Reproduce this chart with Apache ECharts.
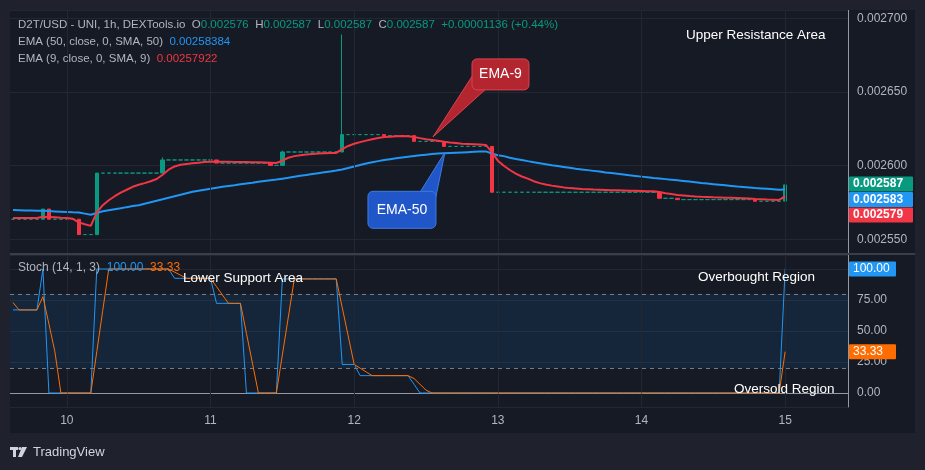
<!DOCTYPE html>
<html><head><meta charset="utf-8">
<script src="https://cdn.jsdelivr.net/npm/echarts@6/dist/echarts.min.js"></script>
<style>html,body{margin:0;padding:0;background:#161a25;}#c{width:925px;height:470px;}</style>
</head><body><div id="c"></div>
<script>
// ---------- DATA ----------
const startDay = 9, startHour = 15, slotCount = 140;
const dayTickLabels = ['10', '11', '12', '13', '14', '15'];

const opens = [
0.0025637,0.0025637,0.0025637,0.0025637,0.0025637,0.0025637,0.0025706,0.0025637,0.0025637,0.0025637,
0.0025637,0.0025637,0.0025533,0.0025533,0.0025533,0.0025950,0.0025950,0.0025950,0.0025950,0.0025950,
0.0025950,0.0025950,0.0025950,0.0025950,0.0025950,0.0025950,0.0026039,0.0026039,0.0026039,0.0026039,
0.0026039,0.0026039,0.0026039,0.0026039,0.0026039,0.0026018,0.0026018,0.0026018,0.0026018,0.0026018,
0.0026018,0.0026018,0.0026018,0.0026018,0.0026002,0.0026002,0.0026093,0.0026093,0.0026093,0.0026093,
0.0026093,0.0026093,0.0026093,0.0026093,0.0026093,0.0026093,0.0026211,0.0026211,0.0026211,0.0026211,
0.0026211,0.0026211,0.0026211,0.0026204,0.0026204,0.0026204,0.0026204,0.0026204,0.0026165,0.0026165,
0.0026165,0.0026165,0.0026165,0.0026131,0.0026131,0.0026131,0.0026131,0.0026131,0.0026131,0.0026131,
0.0026131,0.0025820,0.0025820,0.0025820,0.0025820,0.0025820,0.0025820,0.0025820,0.0025820,0.0025820,
0.0025820,0.0025820,0.0025820,0.0025820,0.0025820,0.0025820,0.0025820,0.0025820,0.0025820,0.0025820,
0.0025820,0.0025820,0.0025820,0.0025820,0.0025820,0.0025820,0.0025820,0.0025820,0.0025820,0.0025779,
0.0025779,0.0025779,0.0025770,0.0025770,0.0025770,0.0025770,0.0025770,0.0025770,0.0025770,0.0025770,
0.0025770,0.0025770,0.0025770,0.0025770,0.0025770,0.0025759,0.0025759,0.0025759,0.0025759,0.0025760];

const closes = [
0.0025637,0.0025637,0.0025637,0.0025637,0.0025637,0.0025706,0.0025637,0.0025637,0.0025637,0.0025637,
0.0025637,0.0025533,0.0025533,0.0025533,0.0025950,0.0025950,0.0025950,0.0025950,0.0025950,0.0025950,
0.0025950,0.0025950,0.0025950,0.0025950,0.0025950,0.0026039,0.0026039,0.0026039,0.0026039,0.0026039,
0.0026039,0.0026039,0.0026039,0.0026039,0.0026018,0.0026018,0.0026018,0.0026018,0.0026018,0.0026018,
0.0026018,0.0026018,0.0026018,0.0026002,0.0026002,0.0026093,0.0026093,0.0026093,0.0026093,0.0026093,
0.0026093,0.0026093,0.0026093,0.0026093,0.0026093,0.0026211,0.0026211,0.0026211,0.0026211,0.0026211,
0.0026211,0.0026211,0.0026204,0.0026204,0.0026204,0.0026204,0.0026204,0.0026165,0.0026165,0.0026165,
0.0026165,0.0026165,0.0026131,0.0026131,0.0026131,0.0026131,0.0026131,0.0026131,0.0026131,0.0026131,
0.0025820,0.0025820,0.0025820,0.0025820,0.0025820,0.0025820,0.0025820,0.0025820,0.0025820,0.0025820,
0.0025820,0.0025820,0.0025820,0.0025820,0.0025820,0.0025820,0.0025820,0.0025820,0.0025820,0.0025820,
0.0025820,0.0025820,0.0025820,0.0025820,0.0025820,0.0025820,0.0025820,0.0025820,0.0025779,0.0025779,
0.0025779,0.0025770,0.0025770,0.0025770,0.0025770,0.0025770,0.0025770,0.0025770,0.0025770,0.0025770,
0.0025770,0.0025770,0.0025770,0.0025770,0.0025759,0.0025759,0.0025759,0.0025759,0.0025759,0.0025870];

const lows = [
0.0025637,0.0025637,0.0025637,0.0025637,0.0025637,0.0025637,0.0025637,0.0025637,0.0025637,0.0025637,
0.0025637,0.0025533,0.0025533,0.0025533,0.0025533,0.0025950,0.0025950,0.0025950,0.0025950,0.0025950,
0.0025950,0.0025950,0.0025950,0.0025950,0.0025950,0.0025950,0.0026039,0.0026039,0.0026039,0.0026039,
0.0026039,0.0026039,0.0026039,0.0026039,0.0026018,0.0026018,0.0026018,0.0026018,0.0026018,0.0026018,
0.0026018,0.0026018,0.0026018,0.0026002,0.0026002,0.0026002,0.0026093,0.0026093,0.0026093,0.0026093,
0.0026093,0.0026093,0.0026093,0.0026093,0.0026093,0.0026093,0.0026211,0.0026211,0.0026211,0.0026211,
0.0026211,0.0026211,0.0026204,0.0026204,0.0026204,0.0026204,0.0026204,0.0026165,0.0026165,0.0026165,
0.0026165,0.0026165,0.0026131,0.0026131,0.0026131,0.0026131,0.0026131,0.0026131,0.0026131,0.0026131,
0.0025820,0.0025820,0.0025820,0.0025820,0.0025820,0.0025820,0.0025820,0.0025820,0.0025820,0.0025820,
0.0025820,0.0025820,0.0025820,0.0025820,0.0025820,0.0025820,0.0025820,0.0025820,0.0025820,0.0025820,
0.0025820,0.0025820,0.0025820,0.0025820,0.0025820,0.0025820,0.0025820,0.0025820,0.0025779,0.0025779,
0.0025779,0.0025770,0.0025770,0.0025770,0.0025770,0.0025770,0.0025770,0.0025770,0.0025770,0.0025770,
0.0025770,0.0025770,0.0025770,0.0025770,0.0025759,0.0025759,0.0025759,0.0025759,0.0025759,0.0025760];

const highs = [
0.0025637,0.0025637,0.0025637,0.0025637,0.0025637,0.0025706,0.0025706,0.0025637,0.0025637,0.0025637,
0.0025637,0.0025637,0.0025533,0.0025533,0.0025950,0.0025950,0.0025950,0.0025950,0.0025950,0.0025950,
0.0025950,0.0025950,0.0025950,0.0025950,0.0025950,0.0026056,0.0026039,0.0026039,0.0026039,0.0026039,
0.0026039,0.0026039,0.0026039,0.0026039,0.0026039,0.0026018,0.0026018,0.0026018,0.0026018,0.0026018,
0.0026018,0.0026018,0.0026018,0.0026018,0.0026002,0.0026102,0.0026093,0.0026093,0.0026093,0.0026093,
0.0026093,0.0026093,0.0026093,0.0026093,0.0026093,0.0026890,0.0026211,0.0026211,0.0026211,0.0026211,
0.0026211,0.0026211,0.0026211,0.0026204,0.0026204,0.0026204,0.0026204,0.0026204,0.0026165,0.0026165,
0.0026165,0.0026165,0.0026165,0.0026131,0.0026131,0.0026131,0.0026131,0.0026131,0.0026131,0.0026131,
0.0026131,0.0025820,0.0025820,0.0025820,0.0025820,0.0025820,0.0025820,0.0025820,0.0025820,0.0025820,
0.0025820,0.0025820,0.0025820,0.0025820,0.0025820,0.0025820,0.0025820,0.0025820,0.0025820,0.0025820,
0.0025820,0.0025820,0.0025820,0.0025820,0.0025820,0.0025820,0.0025820,0.0025820,0.0025820,0.0025779,
0.0025779,0.0025779,0.0025770,0.0025770,0.0025770,0.0025770,0.0025770,0.0025770,0.0025770,0.0025770,
0.0025770,0.0025770,0.0025770,0.0025770,0.0025770,0.0025759,0.0025759,0.0025759,0.0025759,0.0025870];

const ema50 = [
0.0025699,0.0025698,0.0025697,0.0025696,0.0025694,0.0025694,0.0025692,0.0025690,0.0025688,0.0025686,
0.0025684,0.0025683,0.0025675,0.0025667,0.0025679,0.0025691,0.0025698,0.0025705,0.0025711,0.0025719,
0.0025726,0.0025732,0.0025742,0.0025752,0.0025762,0.0025772,0.0025783,0.0025793,0.0025803,0.0025813,
0.0025823,0.0025830,0.0025837,0.0025844,0.0025851,0.0025857,0.0025863,0.0025868,0.0025874,0.0025880,
0.0025885,0.0025891,0.0025896,0.0025901,0.0025906,0.0025912,0.0025918,0.0025925,0.0025932,0.0025937,
0.0025943,0.0025949,0.0025955,0.0025961,0.0025967,0.0025974,0.0025984,0.0025995,0.0026005,0.0026015,
0.0026024,0.0026031,0.0026038,0.0026044,0.0026050,0.0026056,0.0026061,0.0026066,0.0026071,0.0026075,
0.0026079,0.0026082,0.0026084,0.0026086,0.0026088,0.0026090,0.0026092,0.0026094,0.0026096,0.0026097,
0.0026083,0.0026071,0.0026065,0.0026054,0.0026046,0.0026039,0.0026031,0.0026024,0.0026017,0.0026010,
0.0026003,0.0025998,0.0025992,0.0025986,0.0025980,0.0025975,0.0025970,0.0025965,0.0025960,0.0025954,
0.0025950,0.0025945,0.0025940,0.0025935,0.0025931,0.0025926,0.0025921,0.0025916,0.0025913,0.0025909,
0.0025905,0.0025901,0.0025897,0.0025893,0.0025888,0.0025883,0.0025879,0.0025875,0.0025871,0.0025867,
0.0025863,0.0025859,0.0025856,0.0025853,0.0025849,0.0025846,0.0025843,0.0025840,0.0025837,0.0025838];

const ema9 = [
0.0025645,0.0025645,0.0025645,0.0025645,0.0025645,0.0025654,0.0025652,0.0025650,0.0025647,0.0025645,
0.0025640,0.0025616,0.0025603,0.0025592,0.0025683,0.0025732,0.0025766,0.0025793,0.0025817,0.0025837,
0.0025857,0.0025871,0.0025882,0.0025895,0.0025910,0.0025939,0.0025973,0.0025995,0.0026007,0.0026012,
0.0026017,0.0026020,0.0026025,0.0026027,0.0026027,0.0026027,0.0026027,0.0026026,0.0026026,0.0026025,
0.0026024,0.0026023,0.0026022,0.0026020,0.0026018,0.0026034,0.0026054,0.0026065,0.0026071,0.0026076,
0.0026080,0.0026083,0.0026085,0.0026086,0.0026087,0.0026113,0.0026134,0.0026149,0.0026160,0.0026170,
0.0026180,0.0026188,0.0026194,0.0026197,0.0026200,0.0026201,0.0026200,0.0026195,0.0026187,0.0026180,
0.0026175,0.0026170,0.0026163,0.0026158,0.0026154,0.0026149,0.0026147,0.0026145,0.0026143,0.0026141,
0.0026092,0.0026034,0.0026000,0.0025971,0.0025946,0.0025927,0.0025912,0.0025895,0.0025882,0.0025873,
0.0025865,0.0025859,0.0025853,0.0025848,0.0025845,0.0025842,0.0025840,0.0025838,0.0025837,0.0025836,
0.0025834,0.0025833,0.0025832,0.0025831,0.0025830,0.0025829,0.0025827,0.0025826,0.0025821,0.0025813,
0.0025808,0.0025802,0.0025798,0.0025794,0.0025791,0.0025789,0.0025788,0.0025786,0.0025785,0.0025783,
0.0025782,0.0025781,0.0025779,0.0025777,0.0025774,0.0025772,0.0025770,0.0025769,0.0025768,0.0025792];

const stochK = [
67,67,67,67,67,100,0,0,0,0,
0,0,0,0,100,100,100,100,100,100,
100,100,100,100,100,100,100,92.5,92.5,92.5,
92.5,92.5,92.5,92.5,72.3,72.3,72.3,72.3,72.3,0,
0,0,0,0,0,92,92,92,92,92,
92,92,92,92,92,23,23,23,14,14,
14,14,14,14,14,14,14,7,0,0,
0,0,0,0,0,0,0,0,0,0,
0,0,0,0,0,0,0,0,0,0,
0,0,0,0,0,0,0,0,0,0,
0,0,0,0,0,0,0,0,0,0,
0,0,0,0,0,0,0,0,0,0,
0,0,0,0,0,0,0,0,0,100];

const stochD = [
73,67,67,67,67,77.7,55.7,33.3,0,0,
0,0,0,0,33.3,66.7,100,100,100,100,
100,100,100,100,100,100,100,97.5,95,92.5,
92.5,92.5,92.5,92.5,85.8,79,72.3,72.3,72.3,48.2,
24.1,0,0,0,0,30.7,61.3,92,92,92,
92,92,92,92,92,69,46,23,20,17,
14,14,14,14,14,14,14,11.7,7,2.3,
0,0,0,0,0,0,0,0,0,0,
0,0,0,0,0,0,0,0,0,0,
0,0,0,0,0,0,0,0,0,0,
0,0,0,0,0,0,0,0,0,0,
0,0,0,0,0,0,0,0,0,0,
0,0,0,0,0,0,0,0,0,33.33];

const lastPrice = 0.002587;
const bandLevels = [20, 80];
const priceTagTexts = ['0.002587', '0.002583', '0.002579'];
const stochTagTexts = ['100.00', '33.33'];

// ---------- BUILD ----------
const FONT = "'Liberation Sans', Arial, sans-serif";
const UP = '#089981', DOWN = '#f23645', BLUE = '#2196f3', ORANGE = '#ff6d00';
const GRIDC = '#232733', AXC = '#b2b5be', LINEC = '#9598a1';

const categories = [];
for (let i = 0; i < slotCount; i++) {
  const h = startHour + i;
  categories.push((startDay + Math.floor(h / 24)) + ' ' + String(h % 24).padStart(2, '0') + ':00');
}
const dayCats = dayTickLabels.map(d => d + ' 00:00');
const candleData = opens.map((o, i) => [o, closes[i], lows[i], highs[i]]);
const empty = opens.map(() => null);
const vLines = dayCats.map(c => ({ xAxis: c }));

const chart = echarts.init(document.getElementById('c'), null, { renderer: 'canvas' });

const st = (c, s) => ({ color: c, fontSize: s || 11.5, fontFamily: FONT, fontWeight: 'normal' });
const option = {
  backgroundColor: '#161a25',
  animation: false,
  title: [
    { left: 18, top: 19, padding: 0, text: '{g|D2T/USD - UNI, 1h, DEXTools.io  O}{v|0.002576}{g|  H}{v|0.002587}{g|  L}{v|0.002587}{g|  C}{v|0.002587}{v|  +0.00001136 (+0.44%)}',
      textStyle: { fontWeight: 'normal', rich: { g: st(AXC), v: st(UP) } } },
    { left: 18, top: 36, padding: 0, text: '{g|EMA (50, close, 0, SMA, 50)  }{v|0.00258384}',
      textStyle: { fontWeight: 'normal', rich: { g: st(AXC), v: st(BLUE) } } },
    { left: 18, top: 53, padding: 0, text: '{g|EMA (9, close, 0, SMA, 9)  }{v|0.00257922}',
      textStyle: { fontWeight: 'normal', rich: { g: st(AXC), v: st(DOWN) } } },
    { left: 18, top: 262, padding: 0, text: '{g|Stoch (14, 1, 3)  }{b|100.00}{o|  33.33}',
      textStyle: { fontWeight: 'normal', rich: { g: st(AXC, 12), b: st(BLUE, 12), o: st(ORANGE, 12) } } }
  ],
  grid: [
    { left: 10, top: 10, width: 838, height: 243 },
    { left: 10, top: 255, width: 838, height: 152 }
  ],
  xAxis: [
    { type: 'category', gridIndex: 0, data: categories, boundaryGap: true,
      axisLine: { show: false }, axisTick: { show: false }, axisLabel: { show: false }, splitLine: { show: false } },
    { type: 'category', gridIndex: 1, data: categories, boundaryGap: true,
      axisLine: { show: true, lineStyle: { color: LINEC, width: 1 } }, axisTick: { show: false },
      axisLabel: { interval: (i, v) => dayCats.includes(v), formatter: v => v.split(' ')[0], color: AXC, fontSize: 12, fontFamily: FONT, margin: 8 },
      splitLine: { show: false } }
  ],
  yAxis: [
    { type: 'value', gridIndex: 0, position: 'right', min: 0.0025408, max: 0.0027056, splitNumber: 3, minInterval: 0.00005, maxInterval: 0.00005,
      axisLine: { show: true, lineStyle: { color: LINEC } }, axisTick: { show: false },
      axisLabel: { formatter: v => v.toFixed(6), showMinLabel: false, showMaxLabel: false, color: AXC, fontSize: 12, fontFamily: FONT, margin: 9 },
      splitLine: { show: true, lineStyle: { color: GRIDC } } },
    { type: 'value', gridIndex: 1, position: 'right', min: -11.3, max: 111.3, splitNumber: 5, minInterval: 25, maxInterval: 25,
      axisLine: { show: true, lineStyle: { color: LINEC } }, axisTick: { show: false },
      axisLabel: { formatter: v => v.toFixed(2), showMinLabel: false, showMaxLabel: false, color: AXC, fontSize: 12, fontFamily: FONT, margin: 9 },
      splitLine: { show: true, lineStyle: { color: GRIDC } } }
  ],
  series: [
    { type: 'line', xAxisIndex: 0, yAxisIndex: 0, data: empty, silent: true, z: 1, showSymbol: false, lineStyle: { opacity: 0 },
      markLine: { silent: true, symbol: ['none', 'none'], label: { show: false }, lineStyle: { color: GRIDC, type: 'solid', width: 1 }, data: vLines } },
    { type: 'line', xAxisIndex: 1, yAxisIndex: 1, data: empty, silent: true, z: 1, showSymbol: false, lineStyle: { opacity: 0 },
      markArea: { silent: true, itemStyle: { color: 'rgba(33,150,243,0.1)' }, data: [[{ yAxis: bandLevels[0] }, { yAxis: bandLevels[1] }]] },
      markLine: { silent: true, symbol: ['none', 'none'], label: { show: false }, lineStyle: { color: GRIDC, type: 'solid', width: 1 }, data: vLines } },
    { type: 'line', xAxisIndex: 1, yAxisIndex: 1, data: empty, silent: true, z: 1, showSymbol: false, lineStyle: { opacity: 0 },
      markLine: { silent: true, symbol: ['none', 'none'], label: { show: false }, lineStyle: { color: '#787b86', type: [4, 4], width: 1 },
        data: bandLevels.map(v => ({ yAxis: v })) } },
    { type: 'candlestick', xAxisIndex: 0, yAxisIndex: 0, data: candleData, barWidth: 4, silent: true, z: 3,
      itemStyle: { color: UP, color0: DOWN, borderColor: UP, borderColor0: DOWN, borderWidth: 1 },
      markLine: { silent: true, symbol: ['none', 'none'], label: { show: false }, lineStyle: { color: UP, type: [1, 3], width: 1 },
        data: [{ yAxis: lastPrice }] } },
    { type: 'line', xAxisIndex: 0, yAxisIndex: 0, data: ema50, showSymbol: false, silent: true, z: 4,
      lineStyle: { color: BLUE, width: 2 } },
    { type: 'line', xAxisIndex: 0, yAxisIndex: 0, data: ema9, showSymbol: false, silent: true, z: 5,
      lineStyle: { color: DOWN, width: 2 } },
    { type: 'line', xAxisIndex: 1, yAxisIndex: 1, data: stochK, showSymbol: false, silent: true, z: 4,
      lineStyle: { color: BLUE, width: 1 } },
    { type: 'line', xAxisIndex: 1, yAxisIndex: 1, data: stochD, showSymbol: false, silent: true, z: 5,
      lineStyle: { color: ORANGE, width: 1 } }
  ]
};
chart.setOption(option);

// ---------- OVERLAYS (anchored through the chart's own scales) ----------
const px = (g, i, v) => chart.convertToPixel({ gridIndex: g }, [i, v]);
const last = closes.length - 1;
const g = [];
const OUT = '#1f222d';
// outer frame
g.push({ type: 'rect', shape: { x: 0, y: 0, width: 925, height: 10 }, style: { fill: OUT }, z: 50 });
g.push({ type: 'rect', shape: { x: 0, y: 433, width: 925, height: 37 }, style: { fill: OUT }, z: 50 });
g.push({ type: 'rect', shape: { x: 0, y: 0, width: 10, height: 470 }, style: { fill: OUT }, z: 50 });
g.push({ type: 'rect', shape: { x: 915, y: 0, width: 10, height: 470 }, style: { fill: OUT }, z: 50 });
g.push({ type: 'line', shape: { x1: 10, y1: 254, x2: 915, y2: 254 }, style: { stroke: '#3a3e4a', lineWidth: 2 }, z: 20 });

// price tags
const ptags = [
  { v: lastPrice, c: UP, t: priceTagTexts[0] },
  { v: ema50[last], c: BLUE, t: priceTagTexts[1] },
  { v: ema9[last], c: DOWN, t: priceTagTexts[2] }
].map(o => Object.assign(o, { y: px(0, last, o.v)[1] })).sort((a, b) => a.y - b.y);
let prev = -1e9;
ptags.forEach(o => {
  const y = Math.max(o.y - 1, prev + 15.5); prev = y;
  g.push({ type: 'rect', shape: { x: 849, y: y - 7.5, width: 64, height: 15, r: 1 }, style: { fill: o.c }, z: 60 });
  g.push({ type: 'text', x: 853, y: y, style: { text: o.t, fill: '#ffffff', font: 'bold 12px ' + FONT, textVerticalAlign: 'middle', verticalAlign: 'middle' }, z: 61 });
});
const stags = [{ v: stochK[last], c: BLUE, t: stochTagTexts[0] }, { v: stochD[last], c: ORANGE, t: stochTagTexts[1] }];
stags.forEach(o => {
  const y = px(1, last, o.v)[1];
  g.push({ type: 'rect', shape: { x: 849, y: y - 7.5, width: 47, height: 15, r: 1 }, style: { fill: o.c }, z: 60 });
  g.push({ type: 'text', x: 853, y: y, style: { text: o.t, fill: '#ffffff', font: '12px ' + FONT, textVerticalAlign: 'middle', verticalAlign: 'middle' }, z: 61 });
});

// callouts
const t9 = px(0, 70, ema9[70]); const tip9 = [t9[0] + 1, t9[1] - 3];
const b9 = { x: tip9[0] + 39, y: tip9[1] - 78, w: 57, h: 31 };
g.push({ type: 'polygon', shape: { points: [tip9, [b9.x + 1, b9.y + 16], [b9.x + 14, b9.y + b9.h - 1]] }, style: { fill: '#b3262f', stroke: '#d9424e', lineWidth: 1 }, z: 40 });
g.push({ type: 'rect', shape: { x: b9.x, y: b9.y, width: b9.w, height: b9.h, r: 5 }, style: { fill: '#b3262f', stroke: '#d9424e', lineWidth: 1 }, z: 41 });
g.push({ type: 'text', x: b9.x + b9.w / 2, y: b9.y + b9.h / 2, style: { text: 'EMA-9', fill: '#ffffff', font: '14px ' + FONT, textAlign: 'center', align: 'center', textVerticalAlign: 'middle', verticalAlign: 'middle' }, z: 42 });

const t50 = px(0, 72, ema50[72]); const tip50 = [t50[0] + 1, t50[1] - 1];
const b50 = { x: tip50[0] - 77, y: tip50[1] + 39, w: 68, h: 37 };
g.push({ type: 'polygon', shape: { points: [tip50, [b50.x + 52, b50.y + 1], [b50.x + b50.w - 1, b50.y + 10]] }, style: { fill: '#2156c9', stroke: '#3d7be0', lineWidth: 1 }, z: 40 });
g.push({ type: 'rect', shape: { x: b50.x, y: b50.y, width: b50.w, height: b50.h, r: 5 }, style: { fill: '#2156c9', stroke: '#3d7be0', lineWidth: 1 }, z: 41 });
g.push({ type: 'text', x: b50.x + b50.w / 2, y: b50.y + b50.h / 2, style: { text: 'EMA-50', fill: '#ffffff', font: '14px ' + FONT, textAlign: 'center', align: 'center', textVerticalAlign: 'middle', verticalAlign: 'middle' }, z: 42 });

// text annotations
const ann = (t, x, y) => g.push({ type: 'text', x: x, y: y, style: { text: t, fill: '#ffffff', font: '13.5px ' + FONT, textVerticalAlign: 'middle', verticalAlign: 'middle' }, z: 45 });
ann('Upper Resistance Area', 686, 35);
ann('Lower Support Area', 183, 278);
ann('Overbought Region', 698, 277);
ann('Oversold Region', 734, 389);

// TradingView logo
g.push({ type: 'rect', shape: { x: 10, y: 447, width: 8, height: 3 }, style: { fill: '#d1d4dc' }, z: 60 });
g.push({ type: 'rect', shape: { x: 13, y: 447, width: 3, height: 10 }, style: { fill: '#d1d4dc' }, z: 60 });
g.push({ type: 'circle', shape: { cx: 20, cy: 448.5, r: 1.6 }, style: { fill: '#d1d4dc' }, z: 60 });
g.push({ type: 'polygon', shape: { points: [[22, 447], [27, 447], [22, 457], [18, 457]] }, style: { fill: '#d1d4dc' }, z: 60 });
g.push({ type: 'text', x: 33, y: 452, style: { text: 'TradingView', fill: '#d1d4dc', font: '13px ' + FONT, textVerticalAlign: 'middle', verticalAlign: 'middle' }, z: 60 });

chart.setOption({ graphic: { elements: g } });
</script></body></html>
